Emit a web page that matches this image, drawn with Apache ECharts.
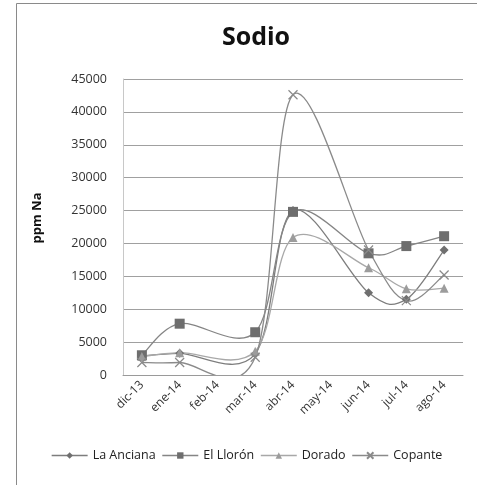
<!DOCTYPE html>
<html>
<head>
<meta charset="utf-8">
<script src="https://cdn.jsdelivr.net/npm/echarts@6/dist/echarts.min.js"></script>
<style>
  html, body { margin: 0; padding: 0; background: #fff; }
  #chart { width: 477px; height: 485px; }
</style>
</head>
<body>
<div id="chart"></div>
<script>
// Monthly sodium readings (ppm Na) at four sampling sites; null = not sampled
const months = ['dic-13', 'ene-14', 'feb-14', 'mar-14', 'abr-14', 'may-14', 'jun-14', 'jul-14', 'ago-14'];
const laAnciana = [2900, 3300, null, 3200, 25000, null, 12500, 11500, 19000];
const elLloron  = [3000, 7800, null, 6500, 24800, null, 18500, 19600, 21100];
const dorado    = [2800, 3400, null, 3600, 20900, null, 16300, 13100, 13200];
const copante   = [1900, 1900, null, 2700, 42600, null, 19000, 11300, 15200];
const yTicks = { min: 0, max: 45000, step: 5000 };

const FONT = '"Open Sans", "Noto Sans", sans-serif';
const crossPath = 'path://M0,0L10,10M10,0L0,10';

const sites = [
  { name: 'La Anciana', values: laAnciana, line: '#7d7d7d', mark: '#6f6f6f', symbol: 'diamond', size: 9 },
  { name: 'El Llorón', values: elLloron, line: '#858585', mark: '#6e6e6e', symbol: 'rect', size: 10 },
  { name: 'Dorado', values: dorado, line: '#a8a8a8', mark: '#9c9c9c', symbol: 'triangle', size: 9 },
  { name: 'Copante', values: copante, line: '#8a8a8a', mark: '#8a8a8a', symbol: crossPath, size: 9, hollow: true }
];

// Spreadsheet-style smoothed line: Catmull-Rom through the sampled months,
// skipping gaps, converted to cubic Bezier segments in pixel space.
function smoothCurve(site) {
  return function (params, api) {
    const pts = [];
    site.values.forEach(function (v, i) {
      if (v != null) pts.push(api.coord([i, v]));
    });
    const children = [];
    for (let i = 0; i < pts.length - 1; i++) {
      const p0 = pts[i - 1] || pts[i];
      const p1 = pts[i];
      const p2 = pts[i + 1];
      const p3 = pts[i + 2] || pts[i + 1];
      children.push({
        type: 'bezierCurve',
        shape: {
          x1: p1[0], y1: p1[1],
          cpx1: p1[0] + (p2[0] - p0[0]) / 6, cpy1: p1[1] + (p2[1] - p0[1]) / 6,
          cpx2: p2[0] - (p3[0] - p1[0]) / 6, cpy2: p2[1] - (p3[1] - p1[1]) / 6,
          x2: p2[0], y2: p2[1]
        },
        style: { stroke: site.line, lineWidth: 1.3, fill: null }
      });
    }
    return { type: 'group', children: children };
  };
}

const series = [];
sites.forEach(function (s) {
  series.push({
    name: s.name + ' curve',
    type: 'custom',
    data: [[0, 0]],
    renderItem: smoothCurve(s),
    clip: true,
    silent: true,
    z: 2
  });
});
sites.forEach(function (s) {
  series.push({
    name: s.name,
    type: 'line',
    data: s.values,
    connectNulls: true,
    symbol: s.symbol,
    symbolSize: s.size,
    showAllSymbol: true,
    lineStyle: { opacity: 0 },
    itemStyle: s.hollow
      ? { color: 'rgba(0,0,0,0)', borderColor: s.mark, borderWidth: 1.2 }
      : { color: s.mark, borderWidth: 0 },
    emphasis: { disabled: true },
    z: 3
  });
});

const chart = echarts.init(document.getElementById('chart'), null, { renderer: 'canvas' });
chart.setOption({
  animation: false,
  backgroundColor: '#ffffff',
  graphic: [{
    type: 'rect',
    shape: { x: 16.5, y: 3.5, width: 470, height: 500 },
    style: { fill: 'none', stroke: '#8a8a8a', lineWidth: 1 },
    silent: true
  }, {
    type: 'text',
    x: 37,
    y: 218,
    rotation: Math.PI / 2,
    style: {
      text: 'ppm Na',
      fontFamily: FONT, fontWeight: 'bold', fontSize: 13, fill: '#111',
      align: 'center', verticalAlign: 'middle'
    },
    silent: true
  }],
  title: {
    text: 'Sodio',
    left: 251,
    top: 20,
    textAlign: 'center',
    textStyle: { fontFamily: FONT, fontWeight: 'bold', fontSize: 25, color: '#111' }
  },
  grid: { left: 123, right: 14, top: 79, bottom: 110, containLabel: false },
  legend: {
    bottom: 18,
    left: 46,
    itemGap: 6,
    itemWidth: 36,
    itemHeight: 8,
    textStyle: { fontFamily: FONT, fontSize: 12.5, color: '#222' },
    data: sites.map(function (s) {
      return { name: s.name, lineStyle: { color: s.line, width: 1.3, opacity: 1 } };
    })
  },
  xAxis: {
    type: 'category',
    data: months,
    boundaryGap: true,
    axisLine: { lineStyle: { color: '#9a9a9a' } },
    axisTick: { show: false },
    axisLabel: { rotate: 45, fontFamily: FONT, fontSize: 12, color: '#333', margin: 8 }
  },
  yAxis: {
    type: 'value',
    min: yTicks.min,
    max: yTicks.max,
    interval: yTicks.step,
    axisLine: { show: true, lineStyle: { color: '#c8c8c8' } },
    axisTick: { show: false },
    axisLabel: {
      fontFamily: FONT, fontSize: 12.5, color: '#333', margin: 16,
      formatter: function (v) { return String(v); }
    },
    splitLine: { lineStyle: { color: '#a0a0a0', width: 1 } }
  },
  series: series
});
</script>
</body>
</html>
